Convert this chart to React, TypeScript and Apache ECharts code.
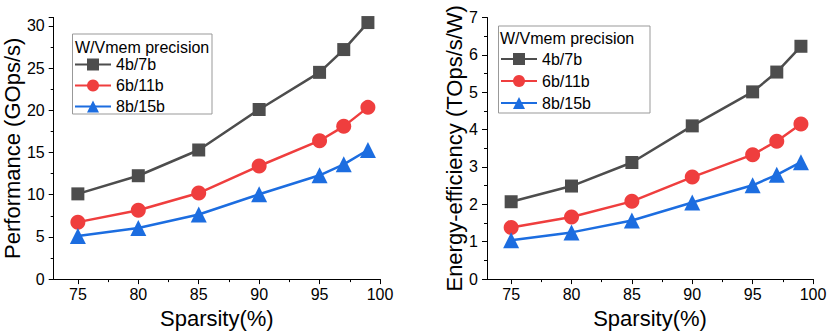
import React, { useEffect, useRef } from "react";
import * as echarts from "echarts";

const sparsity = [75, 80, 85, 90, 95, 97, 99];
const seriesNames = ["4b/7b", "6b/11b", "8b/15b"];
const perf4b = [10.1, 12.25, 15.3, 20.1, 24.5, 27.2, 30.4];
const perf6b = [6.75, 8.15, 10.2, 13.4, 16.4, 18.1, 20.35];
const perf8b = [5.1, 6.05, 7.65, 10.05, 12.3, 13.6, 15.3];
const eff4b = [2.07, 2.49, 3.12, 4.1, 5.01, 5.54, 6.23];
const eff6b = [1.38, 1.66, 2.08, 2.73, 3.33, 3.69, 4.15];
const eff8b = [1.04, 1.25, 1.57, 2.05, 2.51, 2.79, 3.13];
const xMajorTicks = [75, 80, 85, 90, 95, 100];
const xMinorTicks = [77.5, 82.5, 87.5, 92.5, 97.5];

const colors = ["#4d4d4d", "#ef3e3e", "#1c6de0"];
const symbols = ["rect", "circle", "triangle"];
const symbolSizes = [13, 15, 16];
const FONT = "Liberation Sans, Arial, sans-serif";

export default function App() {
  const ref = useRef<HTMLDivElement>(null);
  useEffect(() => {
    if (!ref.current) return;
    const chart = echarts.init(ref.current, null, { renderer: "svg" });
    const pair = (ys: number[]) => sparsity.map((x, i) => [x, ys[i]]);
    const perfData = [perf4b, perf6b, perf8b];
    const effData = [eff4b, eff6b, eff8b];

    const mkX = (gridIndex: number) => [
      {
        type: "value",
        gridIndex,
        position: "bottom",
        min: 73,
        max: 100,
        name: "Sparsity(%)",
        nameLocation: "middle",
        nameGap: 24,
        nameTextStyle: { fontFamily: FONT, fontSize: 22, color: "#000" },
        axisLine: { show: true, lineStyle: { color: "#000", width: 1 } },
        axisTick: { show: true, customValues: xMajorTicks, length: 5, lineStyle: { color: "#000" } },
        axisLabel: { customValues: xMajorTicks, fontFamily: FONT, fontSize: 16, color: "#000", margin: 7 },
        splitLine: { show: false },
      },
      {
        type: "value",
        gridIndex,
        position: "bottom",
        min: 73,
        max: 100,
        axisLine: { show: false },
        axisTick: { show: true, customValues: xMinorTicks, length: 3, lineStyle: { color: "#000" } },
        axisLabel: { show: false },
        splitLine: { show: false },
      },
    ];

    const mkY = (gridIndex: number, max: number, interval: number, name: string, nameGap: number) => ({
      type: "value",
      gridIndex,
      min: 0,
      max,
      interval,
      name,
      nameLocation: "middle",
      nameGap,
      nameTextStyle: { fontFamily: FONT, fontSize: 22, color: "#000" },
      axisLine: { show: true, lineStyle: { color: "#000", width: 1 } },
      axisTick: { show: true, length: 5, lineStyle: { color: "#000" } },
      minorTick: { show: true, splitNumber: 2, length: 3, lineStyle: { color: "#000" } },
      axisLabel: { fontFamily: FONT, fontSize: 16, color: "#000", margin: 9 },
      splitLine: { show: false },
      minorSplitLine: { show: false },
    });

    const mkSeries = (data: number[][], xAxisIndex: number, yAxisIndex: number) =>
      data.map((ys, i) => ({
        type: "line",
        name: seriesNames[i],
        xAxisIndex,
        yAxisIndex,
        data: pair(ys),
        symbol: symbols[i],
        symbolSize: symbolSizes[i],
        lineStyle: { color: colors[i], width: 2.5 },
        itemStyle: { color: colors[i] },
        z: 3 + i,
      }));

    const legendCommon = {
      orient: "vertical",
      padding: 0,
      itemWidth: 36,
      itemHeight: 15,
      itemGap: 5,
      textStyle: { fontFamily: FONT, fontSize: 16, color: "#000" },
      data: seriesNames,
    };

    chart.setOption({
      animation: false,
      grid: [
        { left: 53, top: 17.5, width: 327, height: 264 },
        { left: 487, top: 17.5, width: 326, height: 264 },
      ],
      xAxis: [...mkX(0), ...mkX(1)],
      yAxis: [
        mkY(0, 31, 5, "Performance (GOps/s)", 28),
        mkY(1, 7, 1, "Energy-efficiency (TOps/s/W)", 22),
      ],
      legend: [
        { ...legendCommon, left: 74, top: 56.5 },
        { ...legendCommon, left: 500, top: 51, itemGap: 6 },
      ],
      graphic: [
        {
          type: "rect",
          shape: { x: 72.5, y: 34, width: 139.5, height: 80 },
          style: { fill: "none", stroke: "#999", lineWidth: 1 },
          z: 10,
        },
        {
          type: "text",
          x: 75,
          y: 47,
          style: { text: "W/Vmem precision", fontFamily: FONT, fontSize: 16, fill: "#000", verticalAlign: "middle" },
          z: 10,
        },
        {
          type: "rect",
          shape: { x: 498.5, y: 26, width: 151.5, height: 87 },
          style: { fill: "none", stroke: "#999", lineWidth: 1 },
          z: 10,
        },
        {
          type: "text",
          x: 500,
          y: 38,
          style: { text: "W/Vmem precision", fontFamily: FONT, fontSize: 16, fill: "#000", verticalAlign: "middle" },
          z: 10,
        },
      ],
      series: [...mkSeries(perfData, 0, 0), ...mkSeries(effData, 2, 1)],
    });
    return () => chart.dispose();
  }, []);
  return <div ref={ref} style={{ width: 831, height: 334, position: "absolute", left: 0, top: 0 }} />;
}
